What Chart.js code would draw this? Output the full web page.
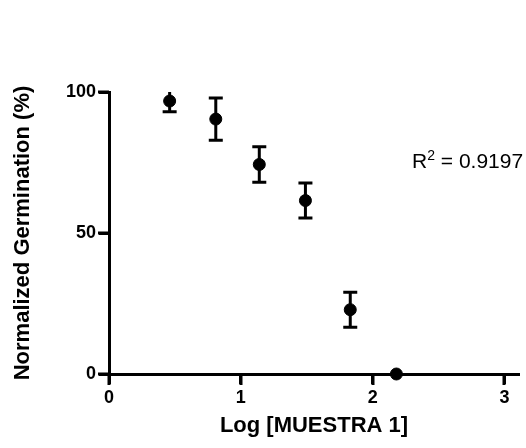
<!DOCTYPE html>
<html>
<head>
<meta charset="utf-8">
<script src="https://cdn.jsdelivr.net/npm/chart.js@4/dist/chart.umd.min.js"></script>
<style>
  body { margin: 0; background: #fff; }
  #wrap { width: 526px; height: 448px; }
</style>
</head>
<body>
<div id="wrap"><canvas id="chart" width="526" height="448"></canvas></div>
<script>
'use strict';

// ***** DATA *****
let logDose = [0.46, 0.81, 1.14, 1.49, 1.83, 2.18];
let germination = [96.8, 90.4, 74.3, 61.5, 22.8, 0];
let errorSize = [3.8, 7.5, 6.3, 6.2, 6.2, 0];
let xTicks = [0, 1, 2, 3];
let yTicks = [0, 50, 100];
let rSquared = '0.9197';

const FONT = '"Liberation Sans", Arial, sans-serif';

// ***** ERROR BARS PLUGIN *****
let errorBars = {
    id: 'errorBars',
    afterDatasetsDraw(chart) {
        let ctx = chart.ctx;
        let x = chart.scales.x;
        let y = chart.scales.y;
        let area = chart.chartArea;
        ctx.save();
        // clip at the top like the original (first cap is cut off at 100)
        ctx.beginPath();
        ctx.rect(area.left, area.top, area.right - area.left, area.bottom - area.top + 20);
        ctx.clip();
        ctx.strokeStyle = '#000';
        ctx.lineWidth = 3;
        for (let i = 0; i < logDose.length; i++) {
            if (!errorSize[i]) continue;
            let px = x.getPixelForValue(logDose[i]);
            let top = y.getPixelForValue(germination[i] + errorSize[i]);
            let bot = y.getPixelForValue(germination[i] - errorSize[i]);
            ctx.beginPath();
            ctx.moveTo(px, top);
            ctx.lineTo(px, bot);
            ctx.moveTo(px - 7, top);
            ctx.lineTo(px + 7, top);
            ctx.moveTo(px - 7, bot);
            ctx.lineTo(px + 7, bot);
            ctx.stroke();
        }
        ctx.restore();
    }
};

// ***** TICK MARKS (outside the axes) *****
let tickMarks = {
    id: 'tickMarks',
    afterDraw(chart) {
        let ctx = chart.ctx;
        let x = chart.scales.x;
        let y = chart.scales.y;
        let area = chart.chartArea;
        ctx.save();
        ctx.strokeStyle = '#000';
        ctx.lineWidth = 3;
        ctx.beginPath();
        xTicks.forEach(v => {
            let px = Math.round(x.getPixelForValue(v));
            ctx.moveTo(px, area.bottom);
            ctx.lineTo(px, area.bottom + 11);
        });
        yTicks.forEach(v => {
            let py = Math.round(y.getPixelForValue(v));
            ctx.moveTo(area.left, py);
            ctx.lineTo(area.left - 11, py);
        });
        ctx.stroke();
        ctx.restore();
    }
};

// ***** R SQUARED LABEL *****
let rLabel = {
    id: 'rLabel',
    afterDraw(chart) {
        let ctx = chart.ctx;
        ctx.save();
        ctx.fillStyle = '#000';
        ctx.textBaseline = 'alphabetic';
        ctx.textAlign = 'left';
        let px = 412;
        let py = 168;
        ctx.font = '21px ' + FONT;
        ctx.fillText('R', px, py);
        px += ctx.measureText('R').width;
        ctx.font = '14px ' + FONT;
        ctx.fillText('2', px, py - 8);
        px += ctx.measureText('2').width;
        ctx.font = '21px ' + FONT;
        ctx.fillText(' = ' + rSquared, px, py);
        ctx.restore();
    }
};

// ***** CHART *****
let points = logDose.map((v, i) => ({ x: v, y: germination[i] }));

let tickFont = { family: FONT, size: 18, weight: 'bold' };
let titleFont = { family: FONT, size: 22, weight: 'bold' };

let chartObj = {
    type: 'scatter',
    data: {
        datasets: [{
            data: points,
            backgroundColor: '#000',
            borderColor: '#000',
            pointRadius: 6,
            pointHoverRadius: 6,
            clip: false
        }]
    },
    options: {
        responsive: false,
        animation: false,
        events: [],
        layout: { padding: { top: 92, right: 0, left: 0, bottom: 0 } },
        plugins: { legend: { display: false }, tooltip: { enabled: false } },
        scales: {
            x: {
                type: 'linear',
                min: 0,
                max: 3.11,
                afterBuildTicks: s => { s.ticks = xTicks.map(v => ({ value: v })); },
                afterFit: s => { s.height = 74; },
                ticks: { color: '#000', font: tickFont, padding: 3 },
                grid: { drawOnChartArea: false, color: '#000', tickLength: 10, tickWidth: 3 },
                border: { color: '#000', width: 3 },
                title: {
                    display: true,
                    text: 'Log [MUESTRA 1]',
                    color: '#000',
                    font: titleFont,
                    padding: { top: 0, bottom: 9 }
                }
            },
            y: {
                type: 'linear',
                min: 0,
                max: 100,
                afterBuildTicks: s => { s.ticks = yTicks.map(v => ({ value: v })); },
                afterFit: s => { s.width = 109; },
                ticks: { color: '#000', font: tickFont, padding: 3 },
                grid: { drawOnChartArea: false, color: '#000', tickLength: 10, tickWidth: 3 },
                border: { color: '#000', width: 3 },
                title: {
                    display: true,
                    text: 'Normalized Germination (%)',
                    color: '#000',
                    font: titleFont,
                    padding: { top: 10, bottom: 0 }
                }
            }
        }
    },
    plugins: [errorBars, tickMarks, rLabel]
};

new Chart(document.getElementById('chart'), chartObj);
</script>
</body>
</html>
